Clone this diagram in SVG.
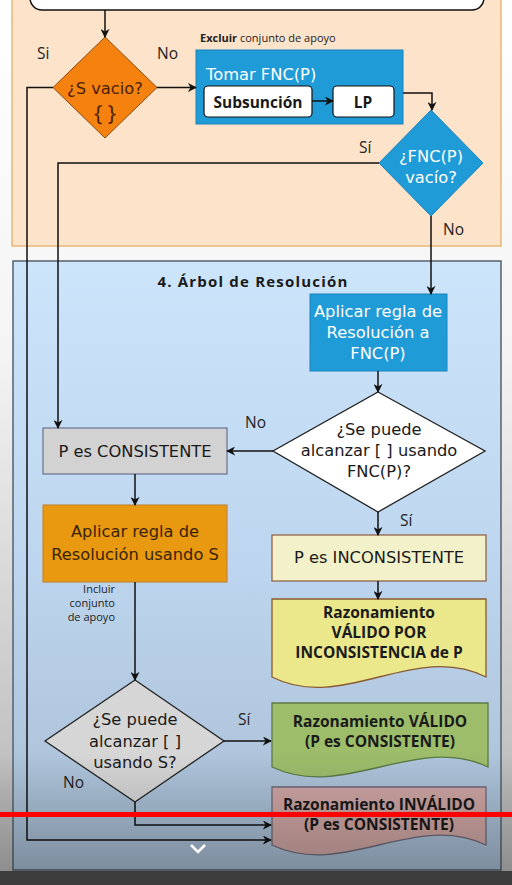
<svg xmlns="http://www.w3.org/2000/svg" width="512" height="885" viewBox="0 0 512 885">
<defs>
<style>
text{font-family:"Open Sans","Noto Sans","DejaVu Sans",sans-serif;fill:#1a1a1a}
.t{font-family:"DejaVu Sans","Open Sans",sans-serif;font-size:16.3px}
.c{text-anchor:middle}
.b{font-weight:bold}
.bb{font-size:15.5px;font-weight:bold}
.lbl{font-size:15.5px;fill:#222}
.sm{font-size:11px;fill:#222}
.w{fill:#ffffff}
.conn path{fill:none;stroke:#111;stroke-width:1.5;marker-end:url(#ah)}
</style>
<marker id="ah" viewBox="0 0 10 10" refX="9" refY="5" markerWidth="9" markerHeight="9" orient="auto" markerUnits="userSpaceOnUse">
<path d="M0,0 L10,5 L0,10 L3,5 Z" fill="#111"/>
</marker>
<linearGradient id="bg" x1="0" y1="0" x2="0" y2="1">
<stop offset="0" stop-color="#ffffff"/>
<stop offset="0.4" stop-color="#f4f4f4"/>
<stop offset="0.9" stop-color="#bdbdbd"/>
</linearGradient>
<linearGradient id="panelB" x1="0" y1="0" x2="0" y2="1">
<stop offset="0" stop-color="#cde5fb"/>
<stop offset="0.5" stop-color="#bdd5ee"/>
<stop offset="1" stop-color="#a6bcd2"/>
</linearGradient>
<linearGradient id="shade" x1="0" y1="0" x2="0" y2="1">
<stop offset="0" stop-color="#000" stop-opacity="0"/>
<stop offset="0.85" stop-color="#000" stop-opacity="0"/>
<stop offset="1" stop-color="#000" stop-opacity="0.28"/>
</linearGradient>
</defs>
<rect x="0" y="0" width="512" height="885" fill="url(#bg)"/>

<g id="panel-top">
<rect x="12" y="-5" width="489" height="251" fill="#fde3ca" stroke="#e7b877" stroke-width="1.5"/>
</g>
<g id="panel-arbol">
<rect x="13" y="261" width="488" height="609" fill="url(#panelB)" stroke="#55606c" stroke-width="1.5"/>
<text class="c b" x="253" y="287" style="font-size:15px;letter-spacing:1.2px">4. Árbol de Resolución</text>
</g>

<g id="top-box">
<rect x="30" y="-30" width="454" height="40" rx="12" fill="#ffffff" stroke="#111" stroke-width="1.5"/>
</g>

<g id="s-vacio">
<path d="M105,37 L157,87.5 L105,138 L53,87.5 Z" fill="#f5820f" stroke="#8a4a12" stroke-width="1"/>
<text class="t c" x="105" y="94" style="fill:#4a2000">¿S vacio?</text>
<text class="c" x="105" y="121" style="font-size:22px;fill:#4a2000">{ }</text>
</g>

<g id="tomar-fnc">
<rect x="196" y="50" width="207" height="74" fill="#1f9bd7" stroke="#1a84bf" stroke-width="1"/>
<text class="t w" x="206" y="80">Tomar FNC(P)</text>
<text class="sm" x="200" y="42"><tspan font-weight="bold">Excluir</tspan> conjunto de apoyo</text>
</g>
<g id="subsuncion">
<rect x="204" y="86" width="108" height="31" rx="4" fill="#ffffff" stroke="#111" stroke-width="1.2"/>
<text class="bb c" x="258" y="108">Subsunción</text>
</g>
<g id="lp">
<rect x="333" y="86" width="61" height="31" rx="4" fill="#ffffff" stroke="#111" stroke-width="1.2"/>
<text class="bb c" x="363" y="108">LP</text>
</g>

<g id="fnc-vacio">
<path d="M431,110 L483,163 L431,216 L379,163 Z" fill="#1f9bd7" stroke="#1a84bf" stroke-width="1"/>
<text class="t c w" x="431" y="162">¿FNC(P)</text>
<text class="t c w" x="431" y="183">vacío?</text>
</g>

<g id="aplicar-fnc">
<rect x="310" y="294" width="137" height="77" fill="#1f9bd7" stroke="#1a84bf" stroke-width="1"/>
<text class="t c w" x="378" y="317">Aplicar regla de</text>
<text class="t c w" x="378" y="338">Resolución a</text>
<text class="t c w" x="378" y="359">FNC(P)</text>
</g>

<g id="alcanzar-fnc">
<path d="M378,392 L485,451 L378,512 L273,451 Z" fill="#ffffff" stroke="#222" stroke-width="1.3"/>
<text class="t c" x="379" y="435">¿Se puede</text>
<text class="t c" x="379" y="456">alcanzar [ ] usando</text>
<text class="t c" x="379" y="477">FNC(P)?</text>
</g>

<g id="p-consistente">
<rect x="43" y="428" width="184" height="46" fill="#d2d2d2" stroke="#6b7090" stroke-width="1.2"/>
<text class="t c" x="135" y="457">P es CONSISTENTE</text>
</g>

<g id="aplicar-s">
<rect x="43" y="505" width="184" height="77" fill="#e8990f" stroke="#c1883a" stroke-width="1.2"/>
<text class="t c" x="135" y="537" style="fill:#3a2408">Aplicar regla de</text>
<text class="t c" x="135" y="560" style="fill:#3a2408">Resolución usando S</text>
</g>

<g id="p-inconsistente">
<rect x="272" y="535" width="214" height="46" fill="#f3f1c9" stroke="#8a5a3c" stroke-width="1.2"/>
<text class="t c" x="379" y="563">P es INCONSISTENTE</text>
</g>

<g id="valido-inconsistencia">
<path d="M272,599 H486 V677 C414.7,641 343.3,713 272,677 Z" fill="#ebe78b" stroke="#8a5a30" stroke-width="1.3"/>
<text class="bb c" x="379" y="618">Razonamiento</text>
<text class="bb c" x="379" y="638">VÁLIDO POR</text>
<text class="bb c" x="379" y="658">INCONSISTENCIA de P</text>
</g>

<g id="alcanzar-s">
<path d="M135,680 L224,741 L135,802 L45,741 Z" fill="#d6d6d6" stroke="#222" stroke-width="1.3"/>
<text class="t c" x="135" y="725">¿Se puede</text>
<text class="t c" x="135" y="747">alcanzar [ ]</text>
<text class="t c" x="135" y="768">usando S?</text>
</g>

<g id="valido-consistente">
<path d="M272,703 H488 V767 C416,733 344,801 272,767 Z" fill="#9dbd6b" stroke="#5b7a45" stroke-width="1.3"/>
<text class="bb c" x="380" y="727">Razonamiento VÁLIDO</text>
<text class="bb c" x="380" y="747">(P es CONSISTENTE)</text>
</g>

<g id="invalido">
<path d="M272,787 H486 V845 C414.7,811 343.3,879 272,845 Z" fill="#cfa6a4" stroke="#6c6a78" stroke-width="1.3"/>
<text class="bb c" x="379" y="810">Razonamiento INVÁLIDO</text>
<text class="bb c" x="379" y="830">(P es CONSISTENTE)</text>
</g>

<g id="connectors" class="conn">
<path d="M105,10 V37"/>
<path d="M53,87.5 H27 V840 H271"/>
<path d="M157,87.5 H196"/>
<path d="M312,101 H333"/>
<path d="M403,93 H432 V110"/>
<path d="M379,163 H58 V428"/>
<path d="M431,216 V294"/>
<path d="M378,371 V392"/>
<path d="M273,451 H227"/>
<path d="M378,512 V535"/>
<path d="M135,474 V505"/>
<path d="M378,581 V599"/>
<path d="M135,582 V680"/>
<path d="M224,741 H271"/>
<path d="M135,802 V825 H271"/>
</g>

<g id="labels">
<text class="lbl" x="37" y="59">Si</text>
<text class="lbl" x="157" y="59">No</text>
<text class="lbl" x="359" y="153">Sí</text>
<text class="lbl" x="443" y="235">No</text>
<text class="lbl" x="245" y="428">No</text>
<text class="lbl" x="400" y="526">Sí</text>
<text class="lbl" x="238" y="725">Sí</text>
<text class="lbl" x="63" y="788">No</text>
<text class="sm" x="115" y="593" text-anchor="end">Incluir</text>
<text class="sm" x="115" y="607" text-anchor="end">conjunto</text>
<text class="sm" x="115" y="621" text-anchor="end">de apoyo</text>
</g>

<rect x="0" y="0" width="512" height="885" fill="url(#shade)"/>
<rect x="0" y="871" width="512" height="14" fill="#3c3c3c"/>
<rect x="0" y="812" width="512" height="5" fill="#ff0000"/>
<polyline points="191,845 198,852 205,845" fill="none" stroke="#ffffff" stroke-width="2.5"/>
</svg>
